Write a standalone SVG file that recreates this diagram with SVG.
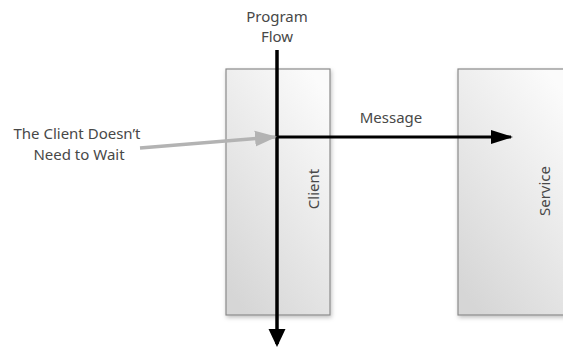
<svg xmlns="http://www.w3.org/2000/svg" width="563" height="347" viewBox="0 0 563 347">
<style>
text{font-family:"Noto Sans","Liberation Sans",sans-serif;font-size:15px;fill:#484848}
.box{fill:url(#g);stroke:#8a8a8a;stroke-width:1.2;filter:url(#sh)}
</style>
<defs>
<linearGradient id="g" x1="0.8" y1="0" x2="0.2" y2="1">
<stop offset="0" stop-color="#fbfbfb"/>
<stop offset="1" stop-color="#d6d6d6"/>
</linearGradient>
<filter id="sh" x="-10%" y="-5%" width="130%" height="115%">
<feDropShadow dx="1" dy="2" stdDeviation="2" flood-color="#000" flood-opacity="0.25"/>
</filter>
<marker id="ab" markerWidth="22" markerHeight="16" refX="20" refY="8" orient="auto" markerUnits="userSpaceOnUse">
<path d="M0,1 L22,8 L0,15 z" fill="#000"/>
</marker>
<marker id="av" markerWidth="18" markerHeight="18" refX="15" refY="9" orient="auto" markerUnits="userSpaceOnUse">
<path d="M0,0.5 L18,9 L0,17.5 z" fill="#000"/>
</marker>
<marker id="ag" markerWidth="22" markerHeight="18" refX="20" refY="9" orient="auto" markerUnits="userSpaceOnUse">
<path d="M0,1 L22,9 L0,17 z" fill="#b3b3b3"/>
</marker>
</defs>
<g id="client">
<rect class="box" x="226" y="69" width="104" height="246"/>
<text x="314" y="189" text-anchor="middle" transform="rotate(-90 314 189)" dy="5">Client</text>
</g>
<g id="service">
<rect class="box" x="458" y="69" width="110" height="246"/>
<text x="545" y="191" text-anchor="middle" transform="rotate(-90 545 191)" dy="5">Service</text>
</g>
<g id="connectors">
<line x1="277" y1="50" x2="277" y2="344" stroke="#000" stroke-width="3.5" marker-end="url(#av)"/>
<line x1="277" y1="137" x2="511" y2="137" stroke="#000" stroke-width="3" marker-end="url(#ab)"/>
<line x1="140" y1="148" x2="275" y2="137" stroke="#b3b3b3" stroke-width="3.5" marker-end="url(#ag)"/>
</g>
<g id="labels">
<text x="277" y="22" text-anchor="middle">Program</text>
<text x="277" y="42" text-anchor="middle">Flow</text>
<text x="391" y="123" text-anchor="middle">Message</text>
<text x="77" y="139" text-anchor="middle">The Client Doesn’t</text>
<text x="79" y="160" text-anchor="middle">Need to Wait</text>
</g>
</svg>
